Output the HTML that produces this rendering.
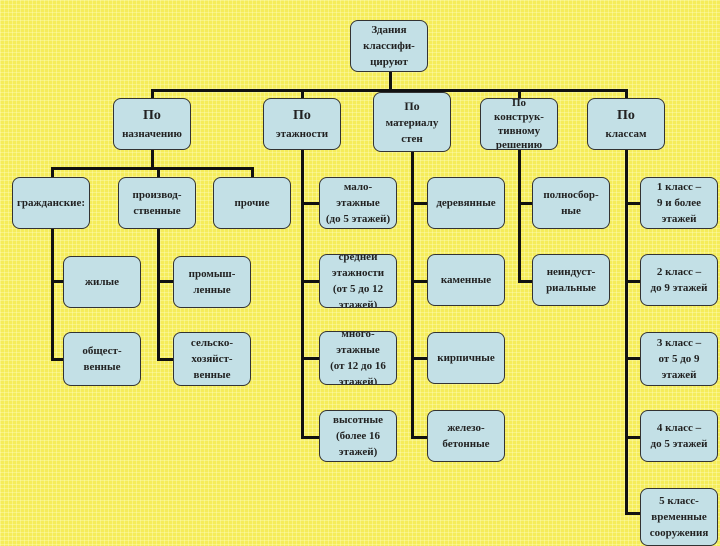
<!DOCTYPE html>
<html><head><meta charset="utf-8"><style>
body{margin:0;width:720px;height:540px;overflow:hidden;position:relative;
background-color:#f5ec5a;
background-image:linear-gradient(rgba(255,255,200,.35) 1px,transparent 1px),linear-gradient(90deg,rgba(255,255,200,.35) 1px,transparent 1px);
background-size:4px 4px;
font-family:"Liberation Serif","Noto Serif CJK SC",serif;font-weight:bold;color:#222;}
.b{position:absolute;width:78px;background:#c3e0e6;border:1.5px solid #333;border-radius:8px;
display:flex;align-items:center;justify-content:center;text-align:center;font-size:11px;line-height:16px;overflow:hidden;box-sizing:border-box}
.l{position:absolute;background:#111}
.big{font-size:14px;line-height:20px}
</style></head><body>
<div class="l" style="left:389px;top:70px;width:3px;height:22px"></div>
<div class="l" style="left:151px;top:89px;width:477px;height:3px"></div>
<div class="l" style="left:151px;top:89px;width:3px;height:10px"></div>
<div class="l" style="left:301px;top:89px;width:3px;height:350px"></div>
<div class="l" style="left:411px;top:89px;width:3px;height:350px"></div>
<div class="l" style="left:518px;top:89px;width:3px;height:194px"></div>
<div class="l" style="left:625px;top:89px;width:3px;height:425px"></div>
<div class="l" style="left:151px;top:148px;width:3px;height:22px"></div>
<div class="l" style="left:51px;top:167px;width:203px;height:3px"></div>
<div class="l" style="left:51px;top:167px;width:3px;height:12px"></div>
<div class="l" style="left:157px;top:167px;width:3px;height:12px"></div>
<div class="l" style="left:251px;top:167px;width:3px;height:12px"></div>
<div class="l" style="left:51px;top:226px;width:3px;height:134px"></div>
<div class="l" style="left:157px;top:226px;width:3px;height:134px"></div>
<div class="l" style="left:51px;top:280px;width:14px;height:3px"></div>
<div class="l" style="left:51px;top:358px;width:14px;height:3px"></div>
<div class="l" style="left:157px;top:280px;width:18px;height:3px"></div>
<div class="l" style="left:157px;top:358px;width:18px;height:3px"></div>
<div class="l" style="left:301px;top:202px;width:18px;height:3px"></div>
<div class="l" style="left:301px;top:280px;width:18px;height:3px"></div>
<div class="l" style="left:301px;top:357px;width:18px;height:3px"></div>
<div class="l" style="left:301px;top:436px;width:18px;height:3px"></div>
<div class="l" style="left:411px;top:202px;width:16px;height:3px"></div>
<div class="l" style="left:411px;top:280px;width:16px;height:3px"></div>
<div class="l" style="left:411px;top:357px;width:16px;height:3px"></div>
<div class="l" style="left:411px;top:436px;width:16px;height:3px"></div>
<div class="l" style="left:518px;top:202px;width:14px;height:3px"></div>
<div class="l" style="left:518px;top:280px;width:14px;height:3px"></div>
<div class="l" style="left:625px;top:202px;width:17px;height:3px"></div>
<div class="l" style="left:625px;top:280px;width:17px;height:3px"></div>
<div class="l" style="left:625px;top:357px;width:17px;height:3px"></div>
<div class="l" style="left:625px;top:436px;width:17px;height:3px"></div>
<div class="l" style="left:625px;top:512px;width:17px;height:3px"></div>

<div class="b" style="left:350px;top:20px;height:52px">Здания<br>классифи-<br>цируют</div>
<div class="b" style="left:113px;top:98px;height:52px"><div><span class="big">По</span><br>назначению</div></div>
<div class="b" style="left:263px;top:98px;height:52px"><div><span class="big">По</span><br>этажности</div></div>
<div class="b" style="left:373px;top:92px;height:60px"><div><span style="font-size:12px">По</span><br>материалу<br>стен</div></div>
<div class="b" style="left:480px;top:98px;height:52px;line-height:14px"><div>По<br>конструк-<br>тивному<br>решению</div></div>
<div class="b" style="left:587px;top:98px;height:52px"><div><span class="big">По</span><br>классам</div></div>

<div class="b" style="left:12px;top:177px;height:52px">гражданские:</div>
<div class="b" style="left:118px;top:177px;height:52px">производ-<br>ственные</div>
<div class="b" style="left:213px;top:177px;height:52px">прочие</div>
<div class="b" style="left:63px;top:256px;height:52px">жилые</div>
<div class="b" style="left:63px;top:332px;height:54px">общест-<br>венные</div>
<div class="b" style="left:173px;top:256px;height:52px">промыш-<br>ленные</div>
<div class="b" style="left:173px;top:332px;height:54px">сельско-<br>хозяйст-<br>венные</div>

<div class="b" style="left:319px;top:177px;height:52px">мало-<br>этажные<br>(до 5 этажей)</div>
<div class="b" style="left:319px;top:254px;height:54px">средней<br>этажности<br>(от 5 до 12<br>этажей)</div>
<div class="b" style="left:319px;top:331px;height:54px">много-<br>этажные<br>(от 12 до 16<br>этажей)</div>
<div class="b" style="left:319px;top:410px;height:52px">высотные<br>(более 16<br>этажей)</div>

<div class="b" style="left:427px;top:177px;height:52px">деревянные</div>
<div class="b" style="left:427px;top:254px;height:52px">каменные</div>
<div class="b" style="left:427px;top:332px;height:52px">кирпичные</div>
<div class="b" style="left:427px;top:410px;height:52px">железо-<br>бетонные</div>

<div class="b" style="left:532px;top:177px;height:52px">полносбор-<br>ные</div>
<div class="b" style="left:532px;top:254px;height:52px">неиндуст-<br>риальные</div>

<div class="b" style="left:640px;top:177px;height:52px">1 класс –<br>9 и более<br>этажей</div>
<div class="b" style="left:640px;top:254px;height:52px">2 класс –<br>до 9 этажей</div>
<div class="b" style="left:640px;top:332px;height:54px">3 класс –<br>от 5 до 9<br>этажей</div>
<div class="b" style="left:640px;top:410px;height:52px">4 класс –<br>до 5 этажей</div>
<div class="b" style="left:640px;top:488px;height:58px">5 класс-<br>временные<br>сооружения</div>
</body></html>
